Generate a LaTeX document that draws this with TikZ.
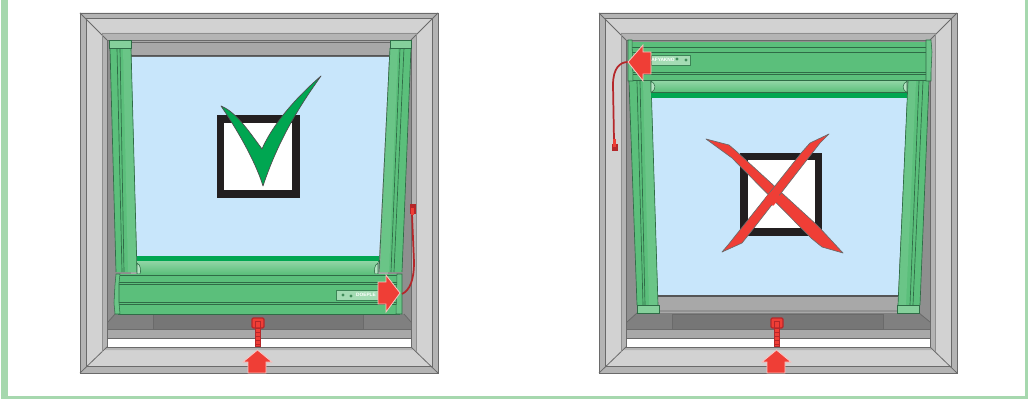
\documentclass[tikz,border=0pt]{standalone}
\usepackage{fontspec}
\setmainfont{Liberation Sans}
\definecolor{fa}{HTML}{B4B4B4}
\definecolor{fb}{HTML}{D2D2D2}
\definecolor{fc}{HTML}{A8A8A8}
\definecolor{fd}{HTML}{8F8F8F}
\definecolor{fe}{HTML}{808080}
\definecolor{ln}{HTML}{6A6A6A}
\definecolor{glass}{HTML}{C8E6FB}
\definecolor{gn}{HTML}{5BBF7B}
\definecolor{gm}{HTML}{6AC587}
\definecolor{gl}{HTML}{85D09B}
\definecolor{gs}{HTML}{00A651}
\definecolor{gd}{HTML}{2F6B46}
\definecolor{rd}{HTML}{EF3E36}
\definecolor{drd}{HTML}{B5272A}
\definecolor{blk}{HTML}{231F20}
\definecolor{edge}{HTML}{A6D8AE}
\tikzset{
 thin line/.style={draw=ln,line width=0.6pt},
 green line/.style={draw=gd,line width=0.5pt},
 arrow red/.style={fill=rd,draw=white!70!rd,line width=0.6pt},
 cable/.style={draw=drd,line width=1.3pt},
 label box/.style={fill=gl!75!white,draw=gd!70!gn,line width=0.4pt},
 leaf/.style={fill=gd!60!gn}
}
\newcommand{\winframe}{%
 \fill[white] (107,338) rectangle (412,346);
 \fill[fc] (107,40) rectangle (412,338);
 \fill[fb] (80,13) -- (438,13) -- (411,40) -- (107,40) -- cycle;
 \fill[fb] (80,13) -- (107,40) -- (107,347) -- (80,373) -- cycle;
 \fill[fb] (438,13) -- (411,40) -- (411,347) -- (438,373) -- cycle;
 \fill[fb] (80,373) -- (107,347) -- (411,347) -- (438,373) -- cycle;
 \fill[fa] (80,13) -- (438,13) -- (432,18) -- (86,18) -- cycle;
 \fill[fa] (80,13) -- (86,18) -- (86,367) -- (80,373) -- cycle;
 \fill[fa] (438,13) -- (432,18) -- (432,367) -- (438,373) -- cycle;
 \fill[fa] (80,373) -- (86,366) -- (432,366) -- (438,373) -- cycle;
 \fill[fa] (102,33) -- (416,33) -- (411,40) -- (107,40) -- cycle;
 \fill[fa] (102,33) -- (107,40) -- (107,347) -- (102,352) -- cycle;
 \fill[fa] (416,33) -- (411,40) -- (411,347) -- (416,352) -- cycle;
 \fill[fa] (107,347) -- (411,347) -- (413,350) -- (105,350) -- cycle;
 \draw[thin line] (80,13) rectangle (438,373);
 \draw[thin line] (80,13) -- (107,40) (438,13) -- (411,40) (80,373) -- (107,347) (438,373) -- (411,347);
 \draw[thin line] (86,18) -- (432,18) (86,18) -- (86,367) (432,18) -- (432,367) (86,366) -- (432,366);
 \draw[draw=fd,line width=0.5pt] (102,33) -- (416,33) (102,33) -- (102,352) (416,33) -- (416,352);
 \draw[thin line] (107,40) -- (411,40) (107,40) -- (107,347) (411,40) -- (411,347) (107,347) -- (411,347);
 \fill[fc] (108,329) rectangle (411,338);
 \draw[thin line] (107,329) -- (411,329) (107,338) -- (411,338);
}
\newcommand{\handlearrow}{%
 \fill[fill=rd,draw=drd,line width=0.9pt,rounded corners=1pt] (252,318) rectangle (264,328);
 \draw[drd,line width=0.7pt] (255,321) rectangle (260,328);
 \fill[rd,draw=drd,line width=0.7pt] (255,328) rectangle (260,346);
 \draw[drd,line width=0.5pt] (255,332) -- (260,332) (255,336) -- (260,336) (255,340) -- (260,340) (255,344) -- (260,344);
 \path[arrow red] (257.5,350) -- (272,362) -- (266,362) -- (266,373) -- (248,373) -- (248,362) -- (243,362) -- cycle;
}
\begin{document}
\begin{tikzpicture}[x=0.75pt,y=-0.75pt]
\useasboundingbox (0,0) rectangle (1028,399);
\fill[white] (0,0) rectangle (1028,399);
\fill[edge] (1,0) rectangle (8,399);
\fill[edge] (1025,0) rectangle (1027.5,399);
\fill[edge] (1,396) rectangle (1027.5,399);

%%%%%%%% LEFT WINDOW
\winframe
\fill[fd] (108,41) rectangle (131,329);
\fill[fd] (388,41) rectangle (411,329);
\fill[fc] (131,41) rectangle (390,55);
\draw[thin line] (131,42) -- (390,42);
\fill[ln!80!black] (131,55) rectangle (390,57);
\fill[glass] (131,57) -- (389,57) -- (379,257) -- (137,257) -- cycle;
\fill[fe] (108,322) -- (115,314) -- (404,314) -- (411,322) -- (411,329) -- (108,329) -- cycle;
\draw[thin line] (108,322) -- (115,314) (404,314) -- (411,322);
\fill[fe!92!black] (153,314) rectangle (363,329);
\draw[thin line] (153,314) rectangle (363,329);
% channels
\fill[gn] (110,48) -- (131,48) -- (137,272) -- (116,272) -- cycle;
\fill[gm] (123,48) -- (131,48) -- (137,272) -- (128,272) -- cycle;
\draw[green line] (110,48) -- (116,272) (131,48) -- (137,272);
\draw[green line] (117,48) -- (122,272) (120,48) -- (124,272);
\fill[gn] (390,48) -- (411,48) -- (402,272) -- (380,272) -- cycle;
\fill[gm] (390,48) -- (398,48) -- (389,272) -- (380,272) -- cycle;
\draw[green line] (390,48) -- (379,272) (411,48) -- (402,272);
\draw[green line] (400,48) -- (391,272) (404,48) -- (394,272);
\fill[gl,draw=gd,line width=0.5pt] (109,40) rectangle (131,48);
\fill[gl,draw=gd,line width=0.5pt] (390,40) rectangle (411,48);
% roller
\fill[gs] (137,256) rectangle (379,261);
\draw[gd,line width=0.5pt] (137,261) -- (379,261);
\shade[top color=gl!90!white,bottom color=gn] (137,261) rectangle (378,274);
\fill[gl!60!white,draw=gd,line width=0.4pt] (137,263) .. controls (141,265) and (141,271) .. (140,274) -- (137,274) -- cycle;
\fill[gl!60!white,draw=gd,line width=0.4pt] (378,263) .. controls (374,265) and (374,271) .. (375,274) -- (378,274) -- cycle;
% bar
\fill[gn] (118,274) rectangle (400,314);
\draw[green line] (118,275) -- (400,275) (118,282) -- (400,282) (118,284) -- (400,284);
\draw[green line] (118,302) -- (400,302) (118,304) -- (400,304) (118,314) -- (400,314);
\fill[gm,draw=gd,line width=0.4pt] (116,274) -- (120,274) -- (119,283) -- (119,303) -- (120,314) -- (115,314) -- (114,303) -- (115,285) -- cycle;
\fill[gm,draw=gd,line width=0.4pt] (397,274) -- (402,274) -- (402,314) -- (396,314) -- cycle;
% label
\fill[label box] (336,290) rectangle (378,300);
\fill[leaf] (343,295) circle (1.6) (351,296) circle (1.6);
\node[text=white,font=\bfseries\fontsize{3.6pt}{4pt}\selectfont,inner sep=0pt] (lbl1) at (366,295) {DOEPLE};
% cable
\draw[cable] (402,294) .. controls (410,290) and (414,280) .. (414,262) -- (412,214);
\fill[drd] (409.5,204) rectangle (415.5,214);
\fill[rd] (411,208) rectangle (414,215);
% right arrow
\path[arrow red] (400,293) -- (386,275) -- (386,282) -- (378,282) -- (378,304) -- (386,304) -- (386,312) -- cycle;
\handlearrow
% check box
\fill[blk] (217,115) rectangle (300,198);
\fill[white] (224,123) rectangle (292,190);
\fill[gs,draw=blk!80,line width=0.5pt,line join=round] (221,106)
 .. controls (236,112) and (248,130) .. (262,149)
 .. controls (268,135) and (284,108) .. (321,76)
 .. controls (304,100) and (280,135) .. (263,186)
 .. controls (255,160) and (236,128) .. (221,106) -- cycle;

%%%%%%%% RIGHT WINDOW
\begin{scope}[xshift=389.25pt]
\winframe
\fill[fd] (108,41) rectangle (138,329);
\fill[fd] (380,41) rectangle (411,329);
\end{scope}
\fill[glass] (651,98) -- (907,98) -- (898,295) -- (658,295) -- cycle;
\fill[ln!80!black] (658,295) rectangle (898,296.5);
\fill[fc] (658,296.5) rectangle (898,311);
\begin{scope}[xshift=389.25pt]
\fill[fe] (108,322) -- (118,313) -- (400,313) -- (411,322) -- (411,329) -- (108,329) -- cycle;
\draw[thin line] (108,322) -- (118,313) (400,313) -- (411,322) (118,311) -- (400,311);
\fill[fe!92!black] (153,314) rectangle (364,329);
\draw[thin line] (153,314) rectangle (364,329);
\end{scope}
% channels
\fill[gn] (629,81) -- (651,81) -- (658,305) -- (637,305) -- cycle;
\fill[gm] (643,81) -- (651,81) -- (658,305) -- (649,305) -- cycle;
\draw[green line] (629,81) -- (637,305) (651,81) -- (658,305);
\draw[green line] (637,81) -- (643,305) (640,81) -- (645,305);
\fill[gn] (908,81) -- (929,81) -- (920,305) -- (898,305) -- cycle;
\fill[gm] (908,81) -- (916,81) -- (906,305) -- (898,305) -- cycle;
\draw[green line] (908,81) -- (898,305) (929,81) -- (920,305);
\draw[green line] (919,81) -- (910,305) (923,81) -- (913,305);
\fill[gl,draw=gd,line width=0.5pt] (637,305) rectangle (659,313);
\fill[gl,draw=gd,line width=0.5pt] (897,305) rectangle (919,313);
% roller
\shade[top color=gl!90!white,bottom color=gn] (651,81) rectangle (907,92);
\fill[gs] (651,92) rectangle (907,98);
\draw[gd,line width=0.5pt] (651,92) -- (907,92);
\fill[gl!60!white,draw=gd,line width=0.4pt] (651,81) .. controls (656,84) and (656,89) .. (652,92) -- (651,92) -- cycle;
\fill[gl!60!white,draw=gd,line width=0.4pt] (907,81) .. controls (902,84) and (902,89) .. (906,92) -- (907,92) -- cycle;
% bar
\fill[gn] (632,41) rectangle (926,80);
\draw[draw=fd,line width=0.6pt] (632,41) -- (926,41);
\draw[green line] (632,47.5) -- (926,47.5) (632,52) -- (926,52);
\draw[green line] (632,72) -- (926,72) (632,74) -- (926,74) (632,80.5) -- (926,80.5);
\fill[gm,draw=gd,line width=0.4pt] (628,40) -- (632,40) -- (633,81) -- (628,81) -- cycle;
\fill[gm,draw=gd,line width=0.4pt] (926,40) -- (931,40) -- (932,52) -- (931,72) -- (931,81) -- (926,81) -- cycle;
% label
\fill[label box] (651,55) rectangle (690,65);
\fill[leaf] (677,59) circle (1.6) (686,60) circle (1.6);
\node[text=white,font=\bfseries\fontsize{3.6pt}{4pt}\selectfont,inner sep=0pt] (lbl2) at (663,60) {AFYAKNO};
% cable
\draw[cable] (628,62) .. controls (620,62) and (613,68) .. (613,85) -- (614,140);
\fill[drd] (611.5,144) rectangle (618,151);
\fill[rd] (613,139) rectangle (616,147);
% left arrow
\path[arrow red] (628,62) -- (643,45) -- (643,52) -- (651,52) -- (651,74) -- (643,74) -- (643,81) -- cycle;
\begin{scope}[xshift=389.25pt]
\handlearrow
\end{scope}
% cross box
\fill[blk] (740,153) rectangle (822,236);
\fill[white] (748,160) rectangle (815,228);
\path[fill=rd,draw=ln,line width=0.5pt,line join=round] (706,139) -- (729,145) -- (736,151) -- (818,226) -- (843,253) -- (822,247) -- (811,238) -- (732,158) -- cycle;
\path[fill=rd,draw=ln,line width=0.5pt,line join=round] (829,134) -- (810,143) -- (802,152) -- (728,245) -- (722,252) -- (742,243) -- (750,233) -- (820,143) -- cycle;
\fill[rd] (773,190) -- (781,197) -- (773,206) -- (765,198) -- cycle;
\end{tikzpicture}
\end{document}
